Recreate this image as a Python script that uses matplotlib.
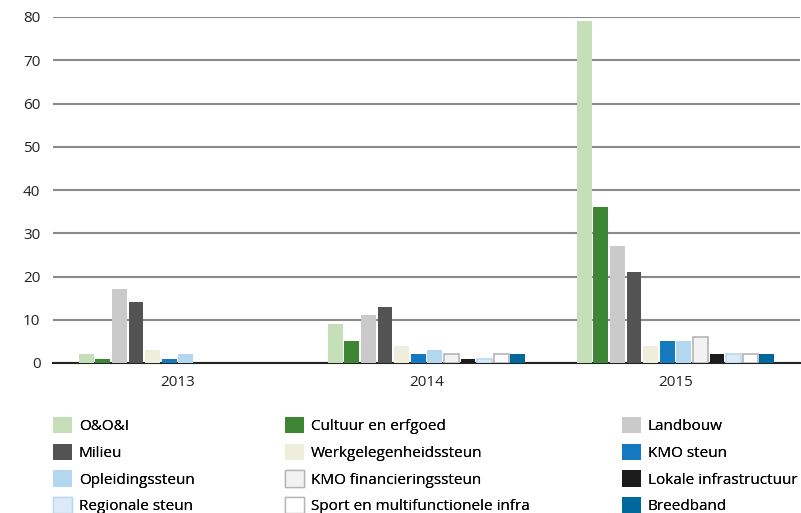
import numpy as np
import matplotlib.pyplot as plt
from matplotlib.patches import Patch

plt.rcParams['font.family'] = ['Open Sans', 'DejaVu Sans']

years = ['2013', '2014', '2015']
categories = ['O&O&I', 'Cultuur en erfgoed', 'Landbouw', 'Milieu',
              'Werkgelegenheidssteun', 'KMO steun', 'Opleidingssteun',
              'KMO financieringssteun', 'Lokale infrastructuur',
              'Regionale steun', 'Sport en multifunctionele infra', 'Breedband']
values = {
    '2013': [2, 1, 17, 14, 3, 1, 2, 0, 0, 0, 0, 0],
    '2014': [9, 5, 11, 13, 4, 2, 3, 2, 1, 1, 2, 2],
    '2015': [79, 36, 27, 21, 4, 5, 5, 6, 2, 2, 2, 2],
}
colors = ['#c5dfb9', '#3c8634', '#cacaca', '#535353', '#efeedd', '#1479bf',
          '#b3d7ef', '#f2f2f2', '#1c1c1c', '#dbeaf6', '#ffffff', '#00689c']
edges = [None] * 7 + ['#b5b5b5', None, '#b9d9ef', '#b5b5b5', None]

fig = plt.figure(figsize=(8.01, 5.13), dpi=100)
ax = fig.add_axes([53 / 801, 1 - 363 / 513, 747 / 801, 346 / 513])

n = len(categories)
x = np.arange(len(years))
step = 0.8 / n
handles = []
for i, cat in enumerate(categories):
    vals = np.array([values[y][i] for y in years])
    pos = x - 0.4 + step * (i + 0.5)
    keep = vals > 0
    ec = edges[i]
    ax.bar(pos[keep], vals[keep], width=step * 0.9, color=colors[i],
           edgecolor=ec if ec else 'none', linewidth=1.2 if ec else 0, zorder=3)
    handles.append(Patch(facecolor=colors[i], edgecolor=ec if ec else colors[i],
                         linewidth=1 if ec else 0, label=cat))

ax.set_xlim(-0.5, 2.5)
ax.set_ylim(0, 80)
ax.set_yticks(range(0, 81, 10))
ax.set_xticks(x)
ax.set_xticklabels(years)
ax.yaxis.grid(True, color='#8a8a8a', linewidth=1.5, zorder=0)
ax.set_axisbelow(True)
for s in ['top', 'right', 'left']:
    ax.spines[s].set_visible(False)
ax.spines['bottom'].set_color('#222222')
ax.spines['bottom'].set_linewidth(1.5)
ax.tick_params(length=0, labelsize=11, colors='#222222', pad=9)
ax.tick_params(axis='y', pad=9)

# legend reads row by row: one legend per column
col_x = [53, 285, 622]
for c in range(3):
    idx = [c, c + 3, c + 6, c + 9]
    leg = fig.legend([handles[k] for k in idx], [categories[k] for k in idx],
                     loc='upper left', bbox_to_anchor=(col_x[c] / 801, 1 - 417 / 513),
                     frameon=False, fontsize=11, handlelength=1.25, handleheight=1.25,
                     handletextpad=0.45, labelspacing=0.62,
                     borderaxespad=0, borderpad=0)
    fig.add_artist(leg)

fig.savefig('out.png', dpi=100)
